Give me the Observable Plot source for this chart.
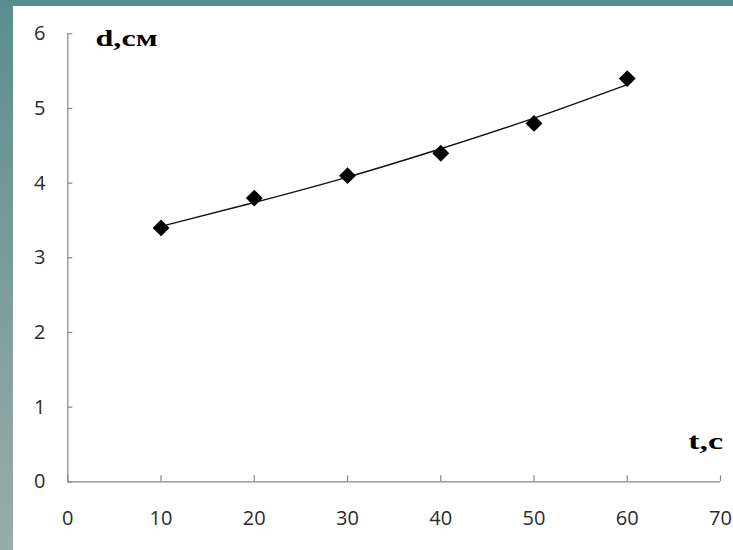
<!DOCTYPE html>
<html><head><meta charset="utf-8">
<script src="https://cdn.jsdelivr.net/npm/d3@7"></script>
<script src="https://cdn.jsdelivr.net/npm/@observablehq/plot@0.6"></script>
<style>
html,body{margin:0;padding:0;background:#fff;}
#bg{width:733px;height:550px;background:linear-gradient(to bottom,#5a8e8e,#9aaca8);position:relative;overflow:hidden;}
#panel{position:absolute;left:13px;top:6px;width:720px;height:544px;background:#fff;}
</style></head><body><div id="bg"><div id="panel"></div></div>
<script>
const times = [10, 20, 30, 40, 50, 60];
const depth = [3.4, 3.8, 4.1, 4.4, 4.8, 5.4];
const trendTimes = [10, 20, 30, 40, 50, 60];
const trendDepth = [3.42, 3.74, 4.08, 4.46, 4.87, 5.32];
const xTicks = [0, 10, 20, 30, 40, 50, 60, 70];
const yTicks = [0, 1, 2, 3, 4, 5, 6];
const yLabel = "d,см";
const xLabel = "t,с";

const points = times.map((t, i) => ({t, d: depth[i]}));
const trend = trendTimes.map((t, i) => ({t, d: trendDepth[i]}));
const axisGray = "#868686";

const chart = Plot.plot({
  width: 720,
  height: 544,
  marginLeft: 54.3,
  marginRight: 13,
  marginTop: 27.3,
  marginBottom: 68.7,
  style: {fontFamily: "'Open Sans', sans-serif", fontSize: "20px", color: "#2b2b2b", background: "#fff", overflow: "visible"},
  x: {domain: [0, 70], label: null},
  y: {domain: [0, 6], label: null},
  marks: [
    Plot.axisX({ticks: xTicks, tickSize: -6, tickPadding: 34.7, stroke: axisGray, strokeWidth: 1.2, label: null, tickFormat: d => String(d)}),
    Plot.axisY({ticks: yTicks, tickSize: -5, tickPadding: 27.3, stroke: axisGray, strokeWidth: 1.2, label: null, tickFormat: d => String(d)}),
    Plot.ruleY([0], {stroke: axisGray, strokeWidth: 1.2}),
    Plot.ruleX([0], {stroke: axisGray, strokeWidth: 1.2}),
    Plot.line(trend, {x: "t", y: "d", curve: "natural", stroke: "#111", strokeWidth: 1.4}),
    Plot.dot(points, {x: "t", y: "d", symbol: "diamond2", r: 7.6, fill: "#000", stroke: "none"}),
    Plot.text([yLabel], {frameAnchor: "top-left", text: d => d, textAnchor: "start", lineAnchor: "bottom", dx: 27.7, dy: 12.2, fontFamily: "'Liberation Serif', serif", fontWeight: "bold", fontSize: 23, fill: "#000"}),
    Plot.text([xLabel], {frameAnchor: "bottom-right", text: d => d, textAnchor: "end", lineAnchor: "bottom", dx: 2.7, dy: -33, fontFamily: "'Liberation Serif', serif", fontWeight: "bold", fontSize: 23, fill: "#000"})
  ]
});
document.getElementById("panel").appendChild(chart);
d3.select(chart).selectAll("text").each(function() {
  const s = d3.select(this);
  const txt = s.text();
  if (txt === yLabel) s.attr("textLength", 62).attr("lengthAdjust", "spacingAndGlyphs");
  if (txt === xLabel) s.attr("textLength", 35).attr("lengthAdjust", "spacingAndGlyphs");
});
</script></body></html>
